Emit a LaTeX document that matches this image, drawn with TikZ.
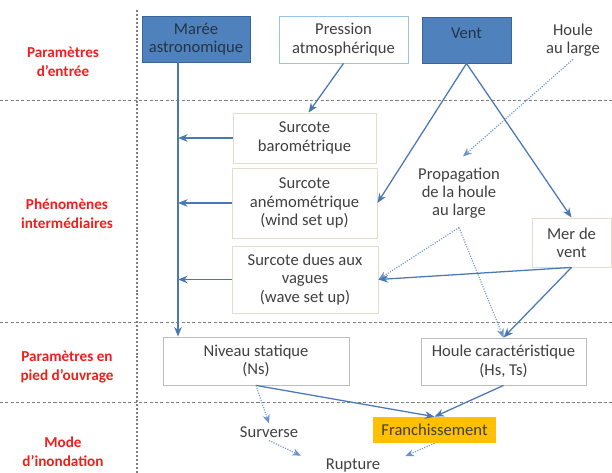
\documentclass[tikz,border=0pt]{standalone}
\usepackage{fontspec}
\setmainfont{Carlito}
\usetikzlibrary{
  arrows.meta,
  calc
}
\definecolor{ink}{HTML}{404040}
\definecolor{navyink}{HTML}{243447}
\definecolor{zonered}{HTML}{F21D1D}
\definecolor{inputfill}{HTML}{4F81BD}
\definecolor{inputdraw}{HTML}{3A659A}
\definecolor{pressdraw}{HTML}{9CC2E5}
\definecolor{softdraw}{HTML}{E2DDCC}
\definecolor{greydraw}{HTML}{BDBDBD}
\definecolor{flowblue}{HTML}{4A78B5}
\definecolor{weakblue}{HTML}{6E93C8}
\definecolor{sepgray}{HTML}{7F7F7F}
\definecolor{floodfill}{HTML}{FFC000}
\tikzset{
  font=\fontsize{11.8}{13}\selectfont,
  zone label/.style={font=\fontsize{10.8}{13.5}\selectfont\bfseries, text=zonered, align=center},
  input box/.style={
    draw=inputdraw,
    line width=0.6pt,
    fill=inputfill,
    text=navyink,
    align=center,
    inner sep=2pt
  },
  effect box/.style={
    draw=softdraw,
    line width=0.6pt,
    fill=white,
    text=ink,
    align=center,
    inner sep=2pt
  },
  free text/.style={text=ink, align=center, inner sep=2pt},
  separator/.style={draw=sepgray, dashed, dash pattern=on 2.2pt off 1.6pt, line width=0.7pt},
  column rule/.style={draw=sepgray, dash pattern=on 1.4pt off 1.4pt, line width=1.3pt},
  flow/.style={-{Stealth[length=2.4mm,width=1.9mm]}, draw=flowblue, line width=0.9pt},
  weak flow/.style={-{Stealth[length=2.2mm,width=1.8mm]}, draw=weakblue, densely dotted, line width=0.8pt}
}

\begin{document}
\begin{tikzpicture}[x=0.025cm,y=-0.025cm]
  \useasboundingbox (0,0) rectangle (612,473);

  % Zone separators
  \draw[separator] (0,100) -- (612,100);
  \draw[separator] (0,322) -- (612,322);
  \draw[separator] (0,402) -- (612,402);
  \draw[column rule] (137,10) -- (137,473);

  % Zone labels
  \node[zone label] (lblin) at (63,62) {Paramètres\\d’entrée};
  \node[zone label] (lblmid) at (67,214) {Phénomènes\\intermédiaires};
  \node[zone label] (lblfoot) at (67,367) {Paramètres en\\pied d’ouvrage};
  \node[zone label] (lblflood) at (63,452) {Mode\\d’inondation};

  % Input parameters
  \node[input box, minimum width=2.7cm, minimum height=1.15cm] (maree) at (196,39) {Marée\\astronomique};
  \node[effect box, draw=pressdraw, minimum width=3.225cm, minimum height=1.175cm] (pression) at (343.5,39.5) {Pression\\atmosphérique};
  \node[input box, minimum width=2.225cm, minimum height=1.15cm, text depth=9pt] (vent) at (466.5,40) {Vent};
  \node[free text] (houlelarge) at (573,40) {Houle\\au large};

  % Intermediate phenomena
  \node[effect box, minimum width=3.575cm, minimum height=1.25cm] (surbaro) at (304.5,138) {Surcote\\barométrique};
  \node[effect box, minimum width=3.625cm, minimum height=1.75cm] (suranemo) at (304.5,203) {Surcote\\anémométrique\\(wind set up)};
  \node[effect box, minimum width=3.65cm, minimum height=1.675cm] (survagues) at (305,279.5) {Surcote dues aux\\vagues\\(wave set up)};
  \node[free text] (propag) at (459,193) {Propagation\\de la houle\\au large};
  \node[effect box, minimum width=1.975cm, minimum height=1.225cm] (merdevent) at (571.5,242.5) {Mer de\\vent};

  % Foot-of-structure parameters
  \node[effect box, draw=greydraw, minimum width=4.65cm, minimum height=1.2cm] (niveau) at (256,361) {Niveau statique\\(Ns)};
  \node[effect box, draw=greydraw, minimum width=4.125cm, minimum height=1.175cm] (houlecar) at (503.5,361.5) {Houle caractéristique\\(Hs, Ts)};

  % Flooding modes
  \node[free text] (surverse) at (269,432) {Surverse};
  \node[free text, fill=floodfill, minimum width=3.075cm, minimum height=0.65cm] (franch) at (434.5,430) {Franchissement};
  \node[free text] (rupture) at (353,466) {Rupture};

  % Water level spine
  \coordinate (spine) at (178,0);
  \draw[flow] (maree.south -| spine) -- (niveau.north -| spine);
  \draw[flow] (surbaro.west) -- (surbaro.west -| spine);
  \draw[flow] (suranemo.west) -- (suranemo.west -| spine);
  \draw[flow] (survagues.west) -- (survagues.west -| spine);

  % Forcing arrows
  \draw[flow] (pression.south) -- ($(surbaro.north)+(4,0)$);
  \draw[flow] (vent.south) -- (suranemo.east);
  \draw[flow] (vent.south) -- (merdevent.north);
  \draw[weak flow] (houlelarge.south) -- ($(propag.north)+(4,-8)$);
  \draw[weak flow] ($(propag.south)+(0,6)$) -- (survagues.east);
  \draw[weak flow] ($(propag.south)+(0,6)$) -- (houlecar.north);
  \draw[flow] (merdevent.south) -- (survagues.east);
  \draw[flow] (merdevent.south) -- (houlecar.north);

  % Towards flooding modes
  \draw[flow] (niveau.south) -- (franch.north);
  \draw[flow] (houlecar.south) -- (franch.north);
  \draw[weak flow] (niveau.south) -- (surverse.north);
  \draw[weak flow, shorten >=0.6cm] (surverse.south) -- (rupture.west);
  \draw[weak flow, shorten >=0.6cm] (franch.south) -- (rupture.east);
\end{tikzpicture}
\end{document}
